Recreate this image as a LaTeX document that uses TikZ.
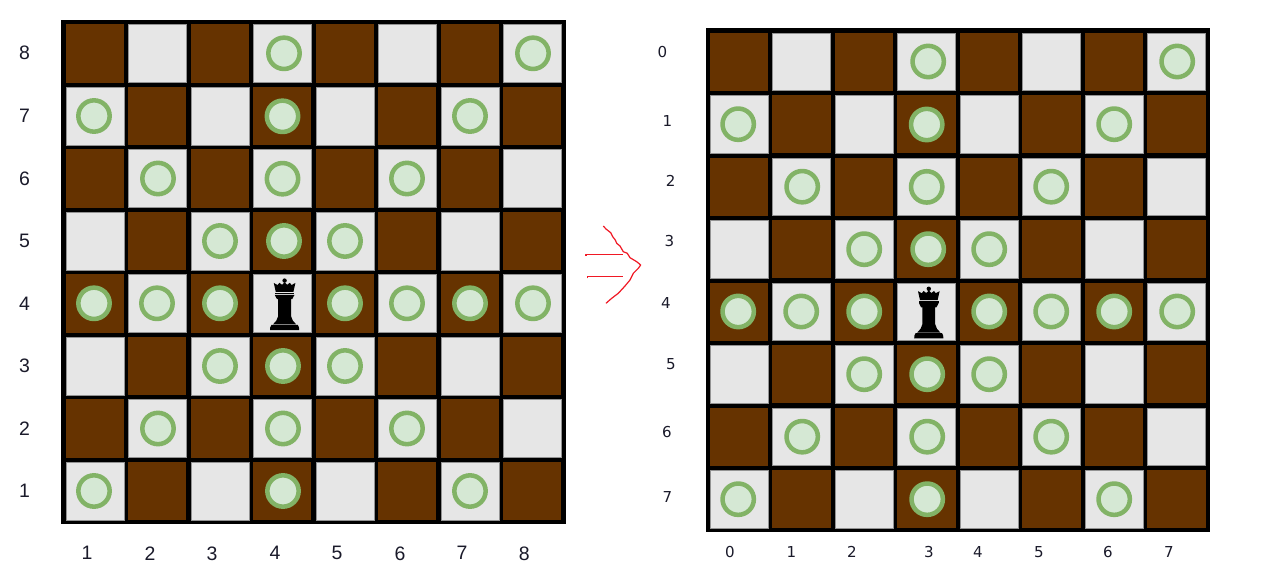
\documentclass[tikz,border=0pt]{standalone}
\usepackage{fontspec}
\setmainfont{Liberation Sans}
\newfontfamily\rightlabelfont{DejaVu Sans}
\definecolor{darkcell}{HTML}{663300}
\definecolor{lightcell}{HTML}{E6E6E6}
\definecolor{ringgreen}{HTML}{82B366}
\definecolor{ringfill}{HTML}{D5E8D4}
\definecolor{labelink}{HTML}{1A1A2A}
\definecolor{handred}{HTML}{F01824}
\tikzset{
  boardframe/.style={fill=black,draw=none},
  cellbase/.style={rectangle,minimum size=43.4pt,inner sep=0pt,outer sep=0pt},
  darksq/.style={cellbase,minimum size=43.65pt,fill=darkcell},
  lightsq/.style={cellbase,fill=lightcell,draw=gray!85,line width=.35pt},
  marker/.style={circle,minimum size=23.5pt,inner sep=0pt,fill=ringfill,draw=ringgreen,line width=3.4pt},
  leftlabel/.style={font=\fontsize{14.6}{16}\selectfont,text=labelink,inner sep=0pt},
  rightlabel/.style={font=\rightlabelfont\fontsize{11.3}{14}\selectfont,text=labelink,inner sep=0pt},
  handline/.style={draw=handred,line width=.9pt,line join=round},
}
% one board, drawn in the coordinates of the left board
\newcommand{\chessboard}[1]{%
  \fill[boardframe] (61.3,20) rectangle (566,524.2);
  \foreach \col in {0,...,7}{
    \foreach \row in {0,...,7}{
      \pgfmathtruncatemacro{\cellodd}{mod(\col+\row,2)}
      \pgfmathsetmacro{\cx}{94.8+62.5*\col}
      \pgfmathsetmacro{\cy}{53.5+62.5*\row}
      \ifnum\cellodd=0
        \node[darksq] (#1sq\col\row) at (\cx,\cy) {};
      \else
        \node[lightsq] (#1sq\col\row) at (\cx,\cy) {};
      \fi
    }
  }
  \foreach \mx/\my [count=\k] in {
    284/53.3,533/53.3,
    94/116,282.5/116.3,470/116,
    158/178.5,282.5/178.7,407/178.5,
    220/241,284/241,345/241,
    94/303.3,157/303.3,220/303.3,345/303.3,407/303.3,470/303.3,533/303.3,
    220/366,283/366,345/366,
    158/428.5,283/428.5,407/428.5,
    94/491,283/491,470/491}{
    \node[marker] (#1m\k) at (\mx,\my) {};
  }
  % the piece
  \begin{scope}[shift={(284.6,0)}]
    \fill[black] (0,280.6) circle (2.2);
    \fill[black] (-10.8,283) -- (-7,285) -- (-5.2,282.8) -- (-2.6,284.8) -- (0,282.4) -- (2.6,284.8) -- (5.2,282.8) -- (7,285) -- (10.8,283)
      -- (8.8,292) -- (-8.8,292) -- cycle;
    \fill[black] (-9.8,292.7) rectangle (9.8,294.4);
    \fill[black] (-9.8,295) -- (9.8,295) -- (7.6,299.2) -- (-7.6,299.2) -- cycle;
    \fill[black] (-6.4,298.5) -- (6.4,298.5) -- (6.4,316)
      .. controls (6.8,319.5) and (9,321.8) .. (11.6,324.4)
      -- (-11.6,324.4) .. controls (-9,321.8) and (-6.8,319.5) .. (-6.4,316) -- cycle;
    \fill[black] (-13.2,325) -- (13.2,325) .. controls (14.4,326.5) and (14.6,328) .. (14.6,330.2)
      -- (-14.6,330.2) .. controls (-14.6,328) and (-14.4,326.5) .. (-13.2,325) -- cycle;
  \end{scope}
}
\begin{document}
\begin{tikzpicture}[x=.75pt,y=-.75pt]
\useasboundingbox[fill=white] (0,0) rectangle (1265,584);
\chessboard{L}
\begin{scope}[shift={(644.2,8.2)}]
\chessboard{R}
\end{scope}
% left board labels
\foreach \lbl/\py in {8/53.3,7/116,6/179,5/241,4/304,3/366,2/429,1/491}{
  \node[leftlabel] (Lrow\lbl) at (24.5,\py) {\lbl};
}
\foreach \lbl/\px in {1/87,2/150,3/212,4/275,5/337,6/400,7/462,8/524.3}{
  \node[leftlabel] (Lcol\lbl) at (\px,553.3) {\lbl};
}
% right board labels
\foreach \lbl/\px/\py in {0/662.3/51.7,1/667.3/120.7,2/670.7/180.7,3/669.3/240.7,4/666/303,5/671/364,6/667/432,7/667.3/496.7}{
  \node[rightlabel] (Rrow\lbl) at (\px,\py) {\lbl};
}
\foreach \lbl/\px in {0/730,1/791.5,2/852,3/929,4/978,5/1039,6/1108,7/1169}{
  \node[rightlabel] (Rcol\lbl) at (\px,551.7) {\lbl};
}
% hand-drawn arrow
\draw[handline] (603.3,226) -- (606,229) -- (610.7,232.7) -- (612.7,236.7) -- (615.3,240) -- (616.7,243.3) -- (620,246) -- (623.3,251.7) -- (627.3,253.3) -- (630,257.7) -- (636.7,261.7) -- (640.7,265) -- (638.3,268.3) -- (633.3,273.3) -- (630,280) -- (625,286) -- (618.3,293.3) -- (611.7,298.3) -- (606,303.3);
\draw[handline] (586,256) -- (586,254.3) -- (622.7,254.3);
\draw[handline] (587.3,278.3) -- (587.3,276.7) -- (622.7,276.7);
\end{tikzpicture}
\end{document}
